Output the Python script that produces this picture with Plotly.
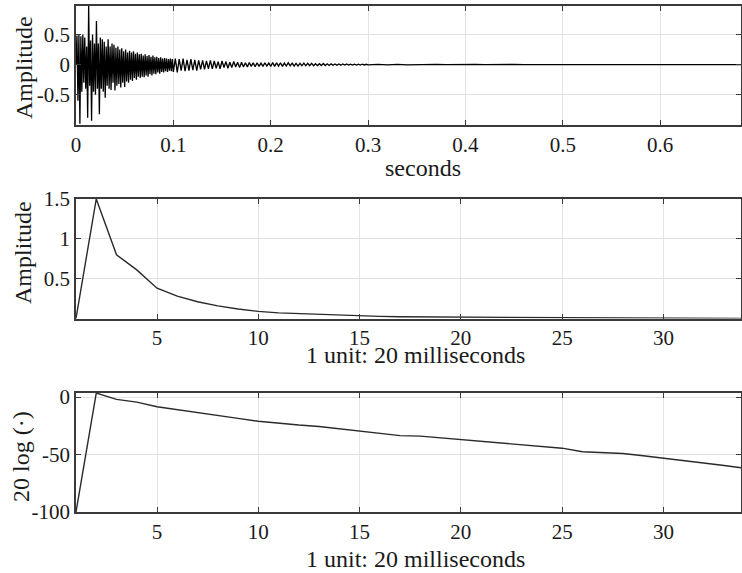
import numpy as np
import plotly.graph_objects as go

# ---------------- data ----------------
# top panel: waveform (alternating extrema), three sample grids
burst_step = 0.001   # s, 0 .. 0.099
burst_values = [
    0.0, 0.48, -0.6, 0.5, -0.98, 0.47, -0.45, 0.5, -0.3, 0.45,
    -0.4, 0.3, -0.88, 0.97, -0.35, 0.4, -0.93, 0.5, -0.45, 0.35,
    -0.5, 0.72, -0.4, 0.35, -0.82, 0.45, -0.4, 0.42, -0.45, 0.38,
    -0.55, 0.3, -0.35, 0.42, -0.4, 0.3, -0.42, 0.35, -0.3, 0.33,
    -0.43, 0.28, -0.35, 0.3, -0.32, 0.25, -0.38, 0.27, -0.3, 0.22,
    -0.37, 0.25, -0.28, 0.2, -0.3, 0.23, -0.25, 0.2, -0.27, 0.22,
    -0.22, 0.18, -0.25, 0.2, -0.2, 0.17, -0.22, 0.18, -0.2, 0.15,
    -0.21, 0.17, -0.18, 0.14, -0.2, 0.16, -0.16, 0.13, -0.18, 0.15,
    -0.15, 0.12, -0.16, 0.13, -0.13, 0.11, -0.15, 0.12, -0.12, 0.1,
    -0.13, 0.11, -0.11, 0.1, -0.12, 0.09, -0.1, 0.1, -0.11, 0.09,
]
mid_start = 0.100
mid_step = 0.002     # s, 0.100 .. 0.298
mid_values = [
    -0.12, 0.1, -0.13, 0.09, -0.1, 0.1, -0.11, 0.08, -0.1, 0.09,
    -0.09, 0.08, -0.1, 0.07, -0.08,
    0.07, -0.08, 0.06, -0.07, 0.07, -0.07, 0.06, -0.06, 0.05, -0.07,
    0.06, -0.05, 0.05, -0.06, 0.04, -0.05, 0.05, -0.04, 0.04, -0.05,
    0.04, -0.04, 0.03, -0.04, 0.035, -0.03, 0.03, -0.035, 0.03, -0.03,
    0.025, -0.03, 0.03, -0.025, 0.025,
    -0.03, 0.035, -0.03, 0.03, -0.025, 0.03, -0.03, 0.025, -0.025, 0.03,
    -0.02, 0.025, -0.025, 0.02, -0.025, 0.02, -0.02, 0.025, -0.02, 0.02,
    -0.018, 0.02, -0.02, 0.015, -0.018, 0.015, -0.015, 0.018, -0.015, 0.012,
    -0.015,
    0.012, -0.012, 0.01, -0.012, 0.01, -0.01, 0.01, -0.008, 0.01, -0.008,
    0.008, -0.008, 0.007, -0.008, 0.006, -0.007, 0.006, -0.006, 0.005,
]
tail_start = 0.300
tail_step = 0.01     # s, 0.30 .. 0.69
tail_values = [
    -0.004, 0.004, -0.004, 0.003, -0.003, 0.003, -0.003, 0.003, -0.002, 0.002,
    -0.002, 0.002, -0.002, 0.002, -0.002, 0.002, -0.002, 0.001, -0.001, 0.001,
    -0.001, 0.001, -0.001, 0.001, -0.001, 0.001, -0.001, 0.001, -0.001, 0.0,
    0.0, 0.0, 0.0, 0.0, 0.0, 0.0, 0.0, 0.0, 0.0, 0.0,
]

# middle / bottom panels: frame amplitude (1 unit = 20 ms)
frame_index = list(range(1, 35))
frame_amplitude = [
    0.0, 1.5, 0.80, 0.61, 0.38, 0.28, 0.21, 0.158, 0.119, 0.089,
    0.071, 0.061, 0.053, 0.042, 0.0335, 0.0266, 0.0211, 0.020, 0.0168, 0.0141,
    0.0126, 0.0100, 0.0089, 0.0075, 0.0060, 0.0042, 0.0039, 0.0035, 0.0028, 0.0022,
    0.0018, 0.0014, 0.00106, 0.0008,
]
db_floor = -100

top_xticks = [0, 0.1, 0.2, 0.3, 0.4, 0.5, 0.6]
top_xticklabels = ["0", "0.1", "0.2", "0.3", "0.4", "0.5", "0.6"]
top_yticks = [-0.5, 0, 0.5]
top_yticklabels = ["-0.5", "0", "0.5"]
frame_xticks = [5, 10, 15, 20, 25, 30]
mid_yticks = [0.5, 1, 1.5]
mid_yticklabels = ["0.5", "1", "1.5"]
bot_yticks = [-100, -50, 0]
bot_yticklabels = ["-100", "-50", "0"]

# ---------------- derived ----------------
t_burst = np.arange(len(burst_values)) * burst_step
t_mid = mid_start + np.arange(len(mid_values)) * mid_step
t_tail = tail_start + np.arange(len(tail_values)) * tail_step
t_all = np.concatenate([t_burst, t_mid, t_tail])
v_all = np.concatenate([burst_values, mid_values, tail_values])

amp = np.array(frame_amplitude)
level_db = np.where(amp > 0, 20 * np.log10(np.maximum(amp, 1e-12)), db_floor)

# ---------------- figure ----------------
W, H = 742, 573
ML, MR, MT, MB = 76, 1, 6, 61
PH = H - MT - MB


def ydom(top_px, bot_px):
    return [(H - MB - bot_px) / PH, (H - MB - top_px) / PH]


FONT = "Liberation Serif"
AXC = "#3a3a3a"
GRID = "#e3e3e3"

fig = go.Figure()
fig.add_trace(go.Scatter(x=t_all, y=v_all, mode="lines",
                         line=dict(color="#000000", width=1.3),
                         xaxis="x", yaxis="y", showlegend=False, hoverinfo="skip"))
fig.add_trace(go.Scatter(x=frame_index, y=amp, mode="lines",
                         line=dict(color="#2a2a2a", width=1.4),
                         xaxis="x2", yaxis="y2", showlegend=False))
fig.add_trace(go.Scatter(x=frame_index, y=level_db, mode="lines",
                         line=dict(color="#2a2a2a", width=1.4),
                         xaxis="x3", yaxis="y3", showlegend=False))

common_axis = dict(showline=True, linecolor=AXC, linewidth=1.5, mirror="ticks",
                   ticks="inside", ticklen=5, tickwidth=1.3, tickcolor=AXC,
                   showgrid=True, gridcolor=GRID, gridwidth=1, zeroline=False,
                   automargin=False,
                   tickfont=dict(family=FONT, size=21, color="#1a1a1a"))
xaxis_extra = dict(ticklabelstandoff=0)
yaxis_extra = dict(ticklabelstandoff=0)

fig.update_layout(
    width=W, height=H,
    margin=dict(l=ML, r=MR, t=MT, b=MB, autoexpand=False),
    paper_bgcolor="white", plot_bgcolor="white",
    font=dict(family=FONT, color="#1a1a1a"),
    xaxis=dict(domain=[0, 1], range=[0, 0.683], anchor="y",
               tickvals=top_xticks, ticktext=top_xticklabels, **common_axis, **xaxis_extra),
    yaxis=dict(domain=ydom(6, 125), range=[-1.0, 0.97], anchor="x",
               tickvals=top_yticks, ticktext=top_yticklabels, **common_axis, **yaxis_extra),
    xaxis2=dict(domain=[0, 1], range=[1, 33.83], anchor="y2",
                tickvals=frame_xticks, **common_axis, **xaxis_extra),
    yaxis2=dict(domain=ydom(199, 318.5), range=[0, 1.5], anchor="x2",
                tickvals=mid_yticks, ticktext=mid_yticklabels, **common_axis, **yaxis_extra),
    xaxis3=dict(domain=[0, 1], range=[1, 33.83], anchor="y3",
                tickvals=frame_xticks, **common_axis, **xaxis_extra),
    yaxis3=dict(domain=ydom(393, 512), range=[-100, 3.6], anchor="x3",
                tickvals=bot_yticks, ticktext=bot_yticklabels, **common_axis, **yaxis_extra),
)


def px_to_paper(xpx, ypx):
    return (xpx - ML) / (W - ML - MR), (H - MB - ypx) / PH


def label(text, xpx, ypx, angle=0):
    xp, yp = px_to_paper(xpx, ypx)
    fig.add_annotation(text=text, x=xp, y=yp, xref="paper", yref="paper",
                       xanchor="center", yanchor="middle", showarrow=False,
                       textangle=angle, font=dict(family=FONT, size=24, color="#1a1a1a"))


label("seconds", 423, 168)
label("1 unit: 20 milliseconds", 415, 355)
label("1 unit: 20 milliseconds", 415, 559)
label("Amplitude", 24, 68, -90)
label("Amplitude", 23, 253, -90)
label("20 log (·)", 21, 457, -90)

fig.write_html(
    "out.html",
    config={"responsive": False, "displayModeBar": False},
    post_script="document.body.style.margin='0';document.body.style.overflow='hidden';",
)
